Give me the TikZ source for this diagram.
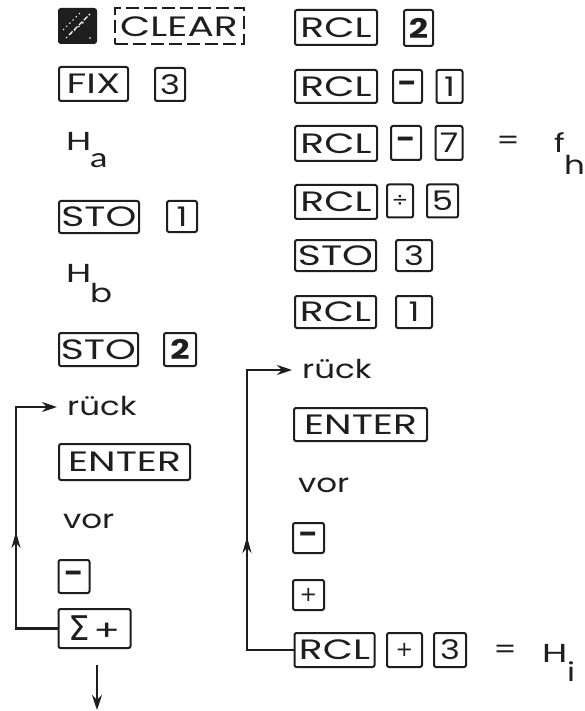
\documentclass[tikz,border=0pt]{standalone}
\usepackage{fontspec}
\setmainfont[FakeStretch=1.25]{Poppins}
\newfontfamily\keyfont[FakeStretch=1.4]{Poppins}
\newfontfamily\lat[FakeStretch=1.3]{Lato}
\newfontfamily\dvs{DejaVu Sans}
\usetikzlibrary{arrows.meta}
\definecolor{ink}{HTML}{1E1E1E}
\tikzset{
  key/.style={draw=ink, line width=2pt, rounded corners=2pt, inner sep=0pt, text=ink,
    font=\keyfont\fontsize{28}{30}\selectfont},
  dig/.style={key, font=\fontsize{27}{30}\selectfont},
  txt/.style={inner sep=0pt, anchor=base west, text=ink},
  ctxt/.style={inner sep=0pt, text=ink},
  conn/.style={draw=ink, line width=2.2pt},
  tip/.style={-{Stealth[length=15pt,width=10pt]}},
  midtip/.style={-{Stealth[length=16pt,width=9pt]}}
}
\begin{document}
\begin{tikzpicture}[x=1pt,y=-1pt,font=\fontsize{26}{30}\selectfont]
\useasboundingbox[fill=white] (0,0) rectangle (585,711);
% ---- left column
\node[key, fill=ink, minimum width=37, minimum height=34] (shift) at (77.5,26) {};
\draw[white, line width=1.2pt, dash pattern=on 5pt off 2pt] (69,35) -- (90,14);
\draw[white, line width=1pt, dash pattern=on 1.5pt off 3pt] (63,30) -- (81,12);
\draw[white, line width=1pt, dash pattern=on 1.5pt off 4pt] (66,38) -- (84,22);
\fill[white] (90,38) circle (0.9pt);
\node[key, dash pattern=on 13pt off 5pt, rounded corners=0pt, minimum width=129, minimum height=36] (clear) at (179,26.5) {CLEAR};
\node[key, minimum width=69, minimum height=34] (fix) at (93.5,84) {FIX};
\node[dig, minimum width=30, minimum height=33] (k3a) at (170,84.5) {3};
\node[txt, font=\keyfont\fontsize{26}{30}\selectfont] (Ha) at (66,151) {H};
\node[txt, font=\lat\fontsize{27}{30}\selectfont] (Has) at (90,168) {a};
\node[key, minimum width=80, minimum height=32] (sto1) at (99,217) {STO};
\node[dig, minimum width=30, minimum height=31] (k1a) at (182,216.5) {1};
\node[txt, font=\keyfont\fontsize{26}{30}\selectfont] (Hb) at (66,282) {H};
\node[txt] (Hbs) at (90,302) {b};
\node[key, minimum width=79, minimum height=33] (sto2) at (98.5,349.5) {STO};
\node[dig, minimum width=32, minimum height=33] (k2a) at (180,349.5) {\bfseries 2};
\node[txt] (rueckL) at (67,415) {rück};
\node[key, minimum width=131, minimum height=36] (enterL) at (124.5,462) {ENTER};
\node[txt] (vorL) at (63,528) {vor};
\node[dig, minimum width=31, minimum height=33] (minusL) at (74,576.5) {\bfseries -};
\node[key, minimum width=72, minimum height=39] (sigma) at (94.5,628.5) {{\dvs\fontsize{34}{34}\selectfont Σ}\hspace{3pt}+};
\coordinate (inL) at (57,407);
\coordinate (cornL) at (16,628.5);
\coordinate (midL) at (16,532);
\coordinate (dstart) at (97,665);
\coordinate (dend) at (97,710);
\draw[conn, tip] (sigma.west) -- (cornL) |- (inL);
\draw[conn, midtip] (cornL) -- (midL);
\draw[conn, tip] (dstart) -- (dend);
% ---- right column
\node[key, minimum width=82, minimum height=35] (rclA) at (336,27.5) {RCL};
\node[dig, minimum width=29, minimum height=36] (k2b) at (418.5,28) {\bfseries 2};
\node[key, minimum width=82, minimum height=33] (rclB) at (336,86.5) {RCL};
\node[dig, minimum width=29, minimum height=33] (mB) at (407.5,86.5) {\bfseries -};
\node[dig, minimum width=26, minimum height=33] (k1b) at (449.5,86.5) {1};
\node[key, minimum width=82, minimum height=35] (rclC) at (336,143.5) {RCL};
\node[dig, minimum width=30, minimum height=34] (mC) at (406,143) {\bfseries -};
\node[dig, minimum width=27, minimum height=34] (k7) at (449,143) {7};
\node[ctxt] (eq1) at (508,143) {=};
\node[txt] (fh) at (554,153) {f};
\node[txt] (fhs) at (564,175) {h};
\node[key, minimum width=82, minimum height=34] (rclD) at (336,202) {RCL};
\node[dig, minimum width=26, minimum height=33] (div) at (400,201) {\dvs\fontsize{20}{20}\selectfont ÷};
\node[dig, minimum width=31, minimum height=33] (k5) at (442.5,201) {5};
\node[key, minimum width=81, minimum height=31] (stoC) at (335.5,255.5) {STO};
\node[dig, minimum width=36, minimum height=31] (k3b) at (414,255.5) {3};
\node[key, minimum width=81, minimum height=32] (rclE) at (335.5,312) {RCL};
\node[dig, minimum width=36, minimum height=32] (k1c) at (414,312) {1};
\node[txt] (rueckR) at (302,378) {rück};
\node[key, minimum width=133, minimum height=33] (enterR) at (360.5,424.5) {ENTER};
\node[txt] (vorR) at (298,492) {vor};
\node[dig, minimum width=31, minimum height=30] (minusR) at (308.5,538) {\bfseries -};
\node[dig, minimum width=31, minimum height=30] (plusR) at (308.5,595) {\dvs\fontsize{21}{21}\selectfont +};
\node[key, minimum width=80, minimum height=34] (rclF) at (334.5,650) {RCL};
\node[dig, minimum width=35, minimum height=34] (plusF) at (404.5,650) {\dvs\fontsize{21}{21}\selectfont +};
\node[dig, minimum width=32, minimum height=34] (k3c) at (450,650) {3};
\node[ctxt] (eq2) at (505,652) {=};
\node[txt, font=\keyfont\fontsize{26}{30}\selectfont] (Hi) at (542,662) {H};
\node[txt] (His) at (567,681) {i};
\coordinate (inR) at (292,370);
\coordinate (cornR) at (247,650);
\coordinate (midR) at (247,537);
\draw[conn, tip] (rclF.west) -- (cornR) |- (inR);
\draw[conn, midtip] (cornR) -- (midR);
\end{tikzpicture}
\end{document}
